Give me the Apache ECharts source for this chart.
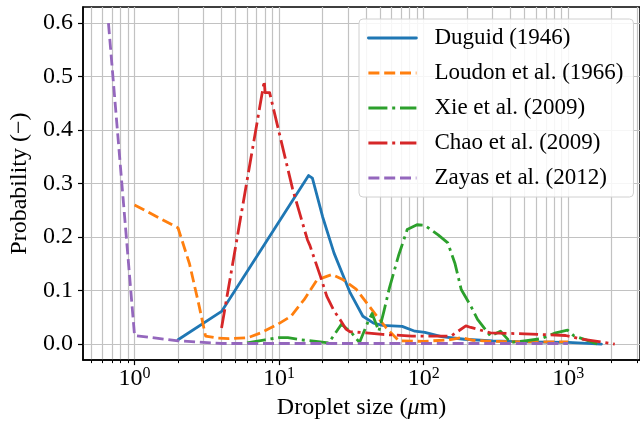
<!DOCTYPE html>
<html><head><meta charset="utf-8">
<script src="https://cdn.jsdelivr.net/npm/echarts@6/dist/echarts.min.js"></script>
<style>html,body{margin:0;padding:0;background:#fff}#c{width:640px;height:425px}</style>
</head><body><div id="c"></div>
<script>
// ---- data ----
const duguidX = [2, 4, 16, 17, 20, 24, 31, 38, 45, 52, 71, 87, 102, 133, 191, 300, 500, 1000, 1700];
const duguidY = [0.008, 0.061, 0.315, 0.31, 0.238, 0.17, 0.096, 0.052, 0.039, 0.035, 0.033, 0.024, 0.022, 0.014, 0.009, 0.006, 0.004, 0.003, 0.0];

const loudonX = [1, 2, 2.4, 2.8, 3.1, 3.8, 4.5, 6.1, 7.5, 9.8, 12.1, 14.9, 18.3, 23.2, 27.8, 34.3, 42, 48, 54.8, 67.4, 100, 150, 182, 220, 300, 500, 1000];
const loudonY = [0.26, 0.217, 0.15, 0.071, 0.015, 0.011, 0.01, 0.012, 0.021, 0.037, 0.052, 0.083, 0.12, 0.13, 0.12, 0.102, 0.071, 0.05, 0.031, 0.006, 0.005, 0.008, 0.012, 0.007, 0.005, 0.004, 0.004];

const xieX = [6, 8, 10, 11.5, 14, 18, 22, 27, 32, 36, 41, 44, 49, 53, 58, 67, 77, 90, 102, 126, 147, 165, 182, 212, 236, 290, 340, 400, 500, 650, 820, 990, 1100, 1390, 1600];
const xieY = [0.002, 0.008, 0.012, 0.012, 0.008, 0.005, 0.002, 0.037, 0.02, 0.003, 0.04, 0.057, 0.024, 0.06, 0.105, 0.165, 0.214, 0.223, 0.222, 0.204, 0.189, 0.15, 0.102, 0.071, 0.046, 0.015, 0.024, 0.003, 0.006, 0.01, 0.021, 0.026, 0.015, 0.006, 0.0];

const chaoX = [4, 7.9, 8.0, 8.6, 12.4, 15.7, 16.3, 19.3, 21.4, 24, 26.4, 29, 31, 40, 52, 83, 155, 196, 212, 290, 500, 960, 1200, 2100];
const chaoY = [0.03, 0.492, 0.47, 0.47, 0.29, 0.195, 0.185, 0.127, 0.089, 0.062, 0.046, 0.028, 0.023, 0.021, 0.018, 0.015, 0.015, 0.034, 0.031, 0.021, 0.019, 0.016, 0.01, 0.0];

const zayasX = [0.66, 1, 2, 4, 1000];
const zayasY = [0.6, 0.016, 0.006, 0.001, 0.001];

const seriesNames = ['Duguid (1946)', 'Loudon et al. (1966)', 'Xie et al. (2009)', 'Chao et al. (2009)', 'Zayas et al. (2012)'];

const xMajorTicks = [1, 10, 100, 1000];
const xMinorTicks = [0.5, 0.6, 0.7, 0.8, 0.9, 2, 3, 4, 5, 6, 7, 8, 9, 20, 30, 40, 50, 60, 70, 80, 90,
  200, 300, 400, 500, 600, 700, 800, 900, 2000, 3000];
const yTicks = [0, 0.1, 0.2, 0.3, 0.4, 0.5, 0.6];

const X_MIN = 0.44, X_MAX = 3140, Y_MIN = -0.03, Y_MAX = 0.63;

// ---- chart ----
const FONT = 'Liberation Serif';
const GRIDC = '#c2c2c2';
function pairs(xs, ys) { return xs.map((x, i) => [x, ys[i]]); }
const DASH = [11, 4.8];
const DASHDOT = [19, 4.8, 3, 4.8];

function line(name, xs, ys, color, type) {
  return {
    name, type: 'line', xAxisIndex: 0, yAxisIndex: 0,
    data: pairs(xs, ys), showSymbol: false, symbol: 'none', smooth: false,
    lineStyle: { color, width: 2.8, type, join: 'round', cap: type === 'solid' ? 'round' : 'butt' },
    itemStyle: { color }, emphasis: { disabled: true }, silent: true
  };
}

const chart = echarts.init(document.getElementById('c'), null, { renderer: 'canvas' });
chart.setOption({
  animation: false,
  grid: { left: 83, right: -9, top: 7, bottom: 63, show: true, borderColor: '#000', borderWidth: 1.5, containLabel: false },
  xAxis: [
    {
      type: 'log', logBase: 10, min: X_MIN, max: X_MAX, position: 'bottom',
      axisLine: { show: true, onZero: false, lineStyle: { color: '#000', width: 1.5 } },
      axisTick: { show: true, customValues: xMajorTicks, length: 5, inside: false, lineStyle: { color: '#000', width: 1.2 } },
      axisLabel: {
        customValues: xMajorTicks, margin: 6,
        formatter: v => '{b|10}{s|' + Math.round(Math.log10(v)) + '}',
        rich: {
          b: { fontFamily: FONT, fontSize: 24, color: '#000', lineHeight: 26 },
          s: { fontFamily: FONT, fontSize: 16, color: '#000', lineHeight: 14, verticalAlign: 'top' }
        }
      },
      splitLine: { show: true, lineStyle: { color: GRIDC, width: 1.2 } },
      minorTick: { show: false }, minorSplitLine: { show: false },
      name: 'Droplet size ({i|μ}m)', nameLocation: 'middle', nameGap: 34,
      nameTextStyle: {
        fontFamily: FONT, fontSize: 24, color: '#000',
        rich: { i: { fontFamily: FONT, fontSize: 24, fontStyle: 'italic', color: '#000' } }
      }
    },
    {
      type: 'log', logBase: 10, min: X_MIN, max: X_MAX, position: 'bottom',
      axisLine: { show: false, onZero: false },
      axisTick: { show: true, customValues: xMinorTicks, length: 3, inside: false, lineStyle: { color: '#000', width: 1 } },
      axisLabel: { show: false },
      splitLine: { show: true, lineStyle: { color: GRIDC, width: 1.2 } }
    }
  ],
  yAxis: {
    type: 'value', min: Y_MIN, max: Y_MAX,
    axisLine: { show: true, onZero: false, lineStyle: { color: '#000', width: 1.5 } },
    axisTick: { show: true, customValues: yTicks, length: 5, inside: false, lineStyle: { color: '#000', width: 1.2 } },
    axisLabel: { customValues: yTicks, margin: 10, formatter: v => v.toFixed(1), fontFamily: FONT, fontSize: 24, color: '#000' },
    splitLine: { show: true, lineStyle: { color: GRIDC, width: 1.2 } },
    name: 'Probability (−)', nameLocation: 'middle', nameGap: 49, nameRotate: 90,
    nameTextStyle: { fontFamily: FONT, fontSize: 24, color: '#000' }
  },
  legend: {
    data: seriesNames, orient: 'vertical', left: 359, top: 19,
    itemWidth: 48, itemHeight: 14, itemGap: 11, padding: [7, 10, 7, 8],
    itemStyle: { color: 'rgba(0,0,0,0)', borderColor: 'rgba(0,0,0,0)', borderWidth: 0, opacity: 0 },
    lineStyle: { width: 2.8 },
    backgroundColor: 'rgba(255,255,255,0.85)', borderColor: '#d0d0d0', borderWidth: 1, borderRadius: 4,
    textStyle: { fontFamily: FONT, fontSize: 23, color: '#000', lineHeight: 24, padding: [0, 0, 0, 13] },
    selectedMode: false
  },
  series: [
    line(seriesNames[0], duguidX, duguidY, '#1f77b4', 'solid'),
    line(seriesNames[1], loudonX, loudonY, '#ff7f0e', DASH),
    line(seriesNames[2], xieX, xieY, '#2ca02c', DASHDOT),
    line(seriesNames[3], chaoX, chaoY, '#d62728', DASHDOT),
    line(seriesNames[4], zayasX, zayasY, '#9467bd', DASH)
  ]
});
</script></body></html>
